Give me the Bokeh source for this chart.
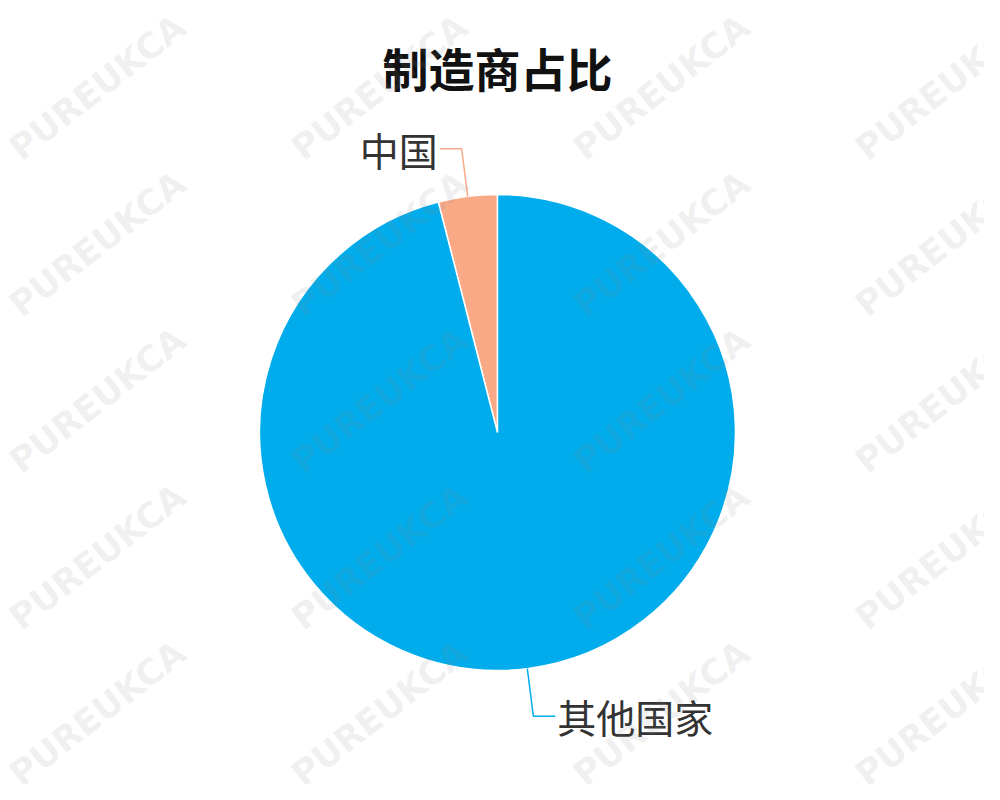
import math
from bokeh.plotting import figure
from bokeh.models import Range1d, ColumnDataSource
from bokeh.core.properties import value
from bokeh.embed import file_html
from bokeh.resources import INLINE

# ---- data ----
title_text = "制造商占比"
categories = ["中国", "其他国家"]
shares = [4, 96]
colors = ["#F9A986", "#00ACEC"]
watermark_text = "PUREUKCA"

W, H = 984, 784
p = figure(width=W, height=H, x_range=Range1d(0, W), y_range=Range1d(0, H),
           output_backend="svg", toolbar_location=None, min_border=0)
p.axis.visible = False
p.grid.visible = False
p.outline_line_color = None
p.background_fill_color = "white"
p.border_fill_color = "white"


def px(x, y):
    return x, H - y


cx, cy = px(497, 432)
R = 238
total = sum(shares)
starts, ends = [], []
a = math.pi / 2
for s in shares:
    starts.append(a)
    a += 2 * math.pi * s / total
    ends.append(a)

src = ColumnDataSource(dict(start=starts, end=ends, color=colors, cat=categories))
p.wedge(x=cx, y=cy, radius=R, start_angle="start", end_angle="end",
        fill_color="color", line_color="white", line_width=1.5, source=src)

# leader lines and labels
L1, L2 = 48, 22
for cat, s, e, col in zip(categories, starts, ends, colors):
    mid = (s + e) / 2
    c, sn = math.cos(mid), math.sin(mid)
    x1, y1 = cx + R * c, cy + R * sn
    x2, y2 = cx + (R + L1) * c, cy + (R + L1) * sn
    d = 1 if c >= 0 else -1
    x3 = x2 + d * L2
    p.line([x1, x2, x3], [y1, y2, y2], line_color=col, line_width=1.5)
    p.text(x=[x3 + d * 2], y=[y2], text=[cat],
           text_font=value("Noto Sans CJK SC"), text_font_size="39px",
           text_color="#333333", text_align="left" if d > 0 else "right",
           text_baseline="middle")

# title
tx, ty = px(497, 66)
p.text(x=[tx], y=[ty], text=[title_text], text_font=value("Noto Sans CJK SC"),
       text_font_size="46px", text_font_style="bold", text_color="#111111",
       text_align="center", text_baseline="middle")

# watermark
wx, wy, wt = [], [], []
for i in range(4):
    for j in range(5):
        x, y = px(97 + 282 * i, 87 + 156.5 * j)
        wx.append(x)
        wy.append(y)
        wt.append(watermark_text)
p.text(x=wx, y=wy, text=wt, angle=math.radians(38),
       text_font=value("DejaVu Sans"), text_font_style="bold",
       text_font_size="35px", text_color="#888888", text_alpha=0.12,
       text_align="center", text_baseline="middle")

open("out.html", "w").write(file_html(p, INLINE))
